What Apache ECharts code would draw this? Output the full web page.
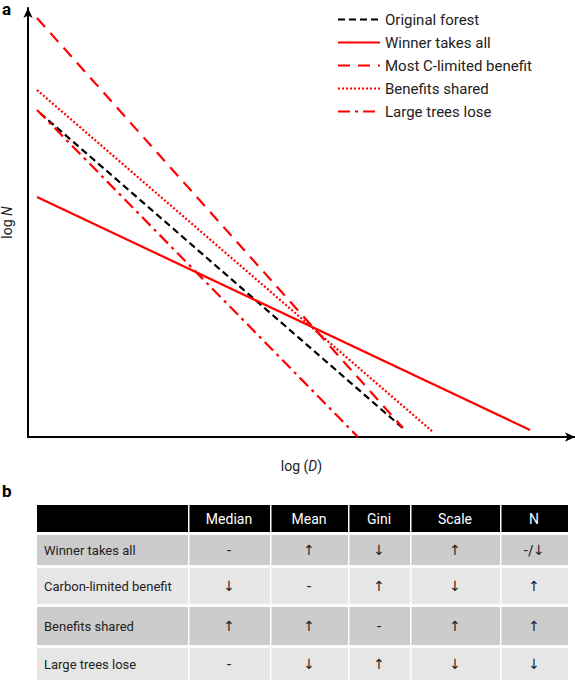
<!DOCTYPE html>
<html>
<head>
<meta charset="utf-8">
<script src="https://cdn.jsdelivr.net/npm/echarts@6/dist/echarts.min.js"></script>
<style>
  body { margin: 0; background: #fff; }
  #main { width: 575px; height: 685px; }
</style>
</head>
<body>
<div id="main"></div>
<script>
// line end points, in axis units (x: 0..547, y: 0..429)
var originalForest = [[12, 324], [377, 7]];
var winnerTakesAll = [[9, 240], [502, 7]];
var mostCLimited = [[9, 419], [375, 9]];
var benefitsShared = [[9, 347], [405, 5]];
var largeTreesLose = [[9, 327], [330, 0]];

// table
var columns = ['Median', 'Mean', 'Gini', 'Scale', 'N'];
var rowNames = ['Winner takes all', 'Carbon-limited benefit', 'Benefits shared', 'Large trees lose'];
var cells = [
  ['-', '↑', '↓', '↑', '-/↓'],
  ['↓', '-', '↑', '↓', '↑'],
  ['↑', '↑', '-', '↑', '↑'],
  ['-', '↓', '↑', '↓', '↓']
];

var font = 'Roboto';
var colX = [37, 188, 270, 348, 410, 500, 568];
var rowY = [505, 535, 568, 607, 648, 683];
var rowFill = ['#cccccc', '#e6e6e6', '#cccccc', '#e6e6e6'];

var graphics = [
  { type: 'text', left: 2, top: 0, style: { text: 'a', font: 'bold 17px ' + font, fill: '#000' } },
  { type: 'text', left: 2, top: 482, style: { text: 'b', font: 'bold 17px ' + font, fill: '#000' } }
];
for (var c = 0; c < 6; c++) {
  graphics.push({ type: 'rect', shape: { x: colX[c] + (c ? 1.5 : 0), y: rowY[0], width: colX[c + 1] - colX[c] - (c ? 1.5 : 0), height: 27 }, style: { fill: '#000' } });
  if (c > 0) {
    graphics.push({ type: 'text', x: (colX[c] + colX[c + 1]) / 2, y: rowY[0] + 14, style: { text: columns[c - 1], font: '14px ' + font, fill: '#fff', align: 'center', verticalAlign: 'middle' } });
  }
}
for (var r = 0; r < 4; r++) {
  var y0 = rowY[r + 1], y1 = rowY[r + 2] - 3;
  for (var c2 = 0; c2 < 6; c2++) {
    graphics.push({ type: 'rect', shape: { x: colX[c2] + (c2 ? 1.5 : 0), y: y0, width: colX[c2 + 1] - colX[c2] - (c2 ? 1.5 : 0), height: y1 - y0 }, style: { fill: rowFill[r] } });
    var t = c2 === 0 ? rowNames[r] : cells[r][c2 - 1];
    graphics.push({ type: 'text', x: c2 === 0 ? colX[0] + 7 : (colX[c2] + colX[c2 + 1]) / 2, y: (y0 + y1) / 2,
      style: { text: t, font: c2 === 0 ? '13px ' + font : '14px "DejaVu Sans"', fill: '#222', align: c2 === 0 ? 'left' : 'center', verticalAlign: 'middle' } });
  }
}

function line(name, data, color, type, width) {
  return { name: name, type: 'line', data: data, symbol: 'none', silent: true,
    lineStyle: { color: color, type: type, width: width || 2.2 }, itemStyle: { color: color } };
}

var chart = echarts.init(document.getElementById('main'), null, { renderer: 'svg' });
chart.setOption({
  animation: false,
  graphic: graphics,
  legend: {
    left: 332, top: 7, orient: 'vertical', itemWidth: 42, itemHeight: 10, itemGap: 8,
    itemStyle: { opacity: 0 },
    textStyle: { fontFamily: font, fontSize: 15, color: '#222' },
    data: ['Original forest', 'Winner takes all', 'Most C-limited benefit', 'Benefits shared', 'Large trees lose']
  },
  grid: { left: 28, top: 8, right: 0, bottom: 248, outerBoundsMode: 'none' },
  xAxis: {
    type: 'value', min: 0, max: 547, splitLine: { show: false }, axisTick: { show: false }, axisLabel: { show: false },
    axisLine: { lineStyle: { color: '#000', width: 2 }, symbol: ['none', 'arrow'], symbolSize: [7, 10] },
    name: 'log ({i|D})', nameLocation: 'middle', nameGap: 22,
    nameTextStyle: { fontFamily: font, fontSize: 14, color: '#222', rich: { i: { fontStyle: 'italic', fontFamily: font, fontSize: 14 } } }
  },
  yAxis: {
    type: 'value', min: 0, max: 429, splitLine: { show: false }, axisTick: { show: false }, axisLabel: { show: false },
    axisLine: { lineStyle: { color: '#000', width: 2 }, symbol: ['none', 'arrow'], symbolSize: [7, 10] },
    name: 'log {i|N}', nameLocation: 'middle', nameGap: 14,
    nameTextStyle: { fontFamily: font, fontSize: 14, color: '#222', rich: { i: { fontStyle: 'italic', fontFamily: font, fontSize: 14 } } }
  },
  series: [
    line('Original forest', originalForest, '#000', [7, 4]),
    line('Winner takes all', winnerTakesAll, '#ff0000', 'solid'),
    line('Most C-limited benefit', mostCLimited, '#ff0000', [12, 8]),
    line('Benefits shared', benefitsShared, '#ff0000', [2, 2]),
    line('Large trees lose', largeTreesLose, '#ff0000', [12, 5, 3, 5])
  ]
});
</script>
</body>
</html>
